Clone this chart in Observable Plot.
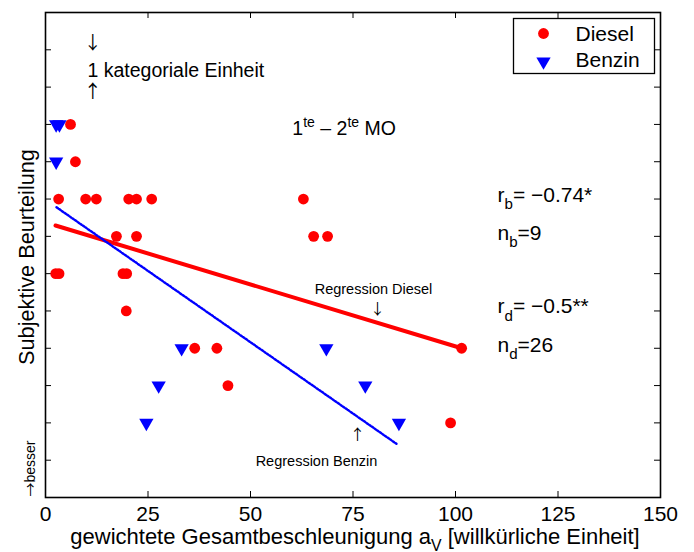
<!DOCTYPE html>
<html><head><meta charset="utf-8">
<script src="https://cdn.jsdelivr.net/npm/d3@7"></script>
<script src="https://cdn.jsdelivr.net/npm/@observablehq/plot@0.6"></script>
<style>body{margin:0;background:#fff;}</style>
</head><body><div id="chart"></div>
<script>
const xTicks = [0, 25, 50, 75, 100, 125, 150];
const yTicks = [1, 2, 3, 4, 5, 6, 7, 8, 9, 10, 11, 12];
const seriesNames = ["Diesel", "Benzin"];

const dieselX = [6.1, 7.3, 3.2, 9.8, 12.4, 20.3, 22.2, 25.9, 62.9, 17.3, 22.2, 65.4, 68.8, 2.5, 3.3, 18.9, 19.8, 19.7, 36.4, 41.8, 101.5, 44.5, 98.8];
const dieselY = [10, 9, 8, 8, 8, 8, 8, 8, 8, 7, 7, 7, 7, 6, 6, 6, 6, 5, 4, 4, 4, 3, 2];
const benzinX = [2.6, 3.4, 2.6, 33.2, 68.5, 27.6, 78, 24.6, 86.2];
const benzinY = [10, 10, 9, 4, 4, 3, 3, 2, 2];

const regDieselX = [2.44, 101.5];
const regDieselY = [7.29, 4.0];
const regBenzinX = [2.68, 85.6];
const regBenzinY = [7.78, 1.44];

const diesel = dieselX.map((x, i) => ({x, y: dieselY[i]}));
const benzin = benzinX.map((x, i) => ({x, y: benzinY[i]}));
const regD = regDieselX.map((x, i) => ({x, y: regDieselY[i]}));
const regB = regBenzinX.map((x, i) => ({x, y: regBenzinY[i]}));

const RED = "#ff0000", BLUE = "#0000ff";
const FONT = "'Liberation Sans', Arial, Helvetica, sans-serif";
const ARROW = "'Noto Sans CJK SC', 'DejaVu Sans', sans-serif";

const chart = Plot.plot({
  width: 694, height: 552,
  marginLeft: 45, marginRight: 34, marginTop: 12, marginBottom: 55,
  x: {domain: [0, 150]},
  y: {domain: [0, 13], axis: null},
  style: {fontFamily: FONT, fontSize: "21px", background: "white", color: "black"},
  marks: [
    // inward ticks on all four sides
    Plot.tickX(xTicks, {x: d => d, insetTop: 479, stroke: "black"}),
    Plot.tickX(xTicks, {x: d => d, insetBottom: 479, stroke: "black"}),
    Plot.tickY(yTicks, {y: d => d, insetRight: 609, stroke: "black"}),
    Plot.tickY(yTicks, {y: d => d, insetLeft: 609, stroke: "black"}),
    Plot.axisX({ticks: xTicks, tickSize: 0, tickPadding: 9, fontSize: 21, label: null, tickFormat: d => String(d)}),
    // regression lines
    Plot.line(regD, {x: "x", y: "y", stroke: RED, strokeWidth: 4}),
    Plot.line(regB, {x: "x", y: "y", stroke: BLUE, strokeWidth: 2.4, strokeDasharray: "1.8,1.4"}),
    // points
    Plot.dot(diesel, {x: "x", y: "y", r: 5.4, fill: RED}),
    Plot.dot(benzin, {x: "x", y: "y", r: 5.3, fill: BLUE, symbol: "triangle", rotate: 180}),
    // annotations
    Plot.text(["\u2193"], {x: 11.5, y: 12.18, fontSize: 18, fontFamily: ARROW, textAnchor: "middle", lineAnchor: "middle"}),
    Plot.text(["1 kategoriale Einheit"], {x: 10.24, y: 11.44, fontSize: 19.5, textAnchor: "start", lineAnchor: "middle"}),
    Plot.text(["\u2191"], {x: 11.5, y: 10.87, fontSize: 18, fontFamily: ARROW, textAnchor: "middle", lineAnchor: "middle"}),
    Plot.text(["1^{te} \u2013 2^{te} MO"], {x: 60.2, y: 9.89, fontSize: 19.5, textAnchor: "start", lineAnchor: "middle"}),
    Plot.text(["r_{b}= \u22120.74*"], {x: 110.24, y: 8.11, fontSize: 21, textAnchor: "start", lineAnchor: "middle"}),
    Plot.text(["n_{b}=9"], {x: 110.24, y: 7.09, fontSize: 21, textAnchor: "start", lineAnchor: "middle"}),
    Plot.text(["r_{d}= \u22120.5**"], {x: 110.24, y: 5.12, fontSize: 21, textAnchor: "start", lineAnchor: "middle"}),
    Plot.text(["n_{d}=26"], {x: 110.24, y: 4.09, fontSize: 21, textAnchor: "start", lineAnchor: "middle"}),
    Plot.text(["Regression Diesel"], {x: 80.0, y: 5.59, fontSize: 14.5, textAnchor: "middle", lineAnchor: "middle"}),
    Plot.text(["\u2193"], {x: 81.0, y: 5.04, fontSize: 15, fontFamily: ARROW, textAnchor: "middle", lineAnchor: "middle"}),
    Plot.text(["\u2191"], {x: 76.1, y: 1.66, fontSize: 15, fontFamily: ARROW, textAnchor: "middle", lineAnchor: "middle"}),
    Plot.text(["Regression Benzin"], {x: 66.1, y: 0.98, fontSize: 14.5, textAnchor: "middle", lineAnchor: "middle"}),
    // axis titles
    Plot.text(["Subjektive Beurteilung"], {frameAnchor: "left", dx: -18.7, dy: 2, rotate: -90, fontSize: 21.7, textAnchor: "middle", lineAnchor: "middle"}),
    Plot.text(["\u2192"], {frameAnchor: "bottom-left", dx: -14.5, dy: -1, rotate: -90, fontSize: 14, fontFamily: ARROW, textAnchor: "start", lineAnchor: "middle"}),
    Plot.text(["besser"], {frameAnchor: "bottom-left", dx: -14.5, dy: -15, rotate: -90, fontSize: 14, textAnchor: "start", lineAnchor: "middle"}),
    Plot.text(["gewichtete Gesamtbeschleunigung a_{V} [willk\u00fcrliche Einheit]"], {frameAnchor: "bottom", dy: 39, dx: 2, fontSize: 22, textAnchor: "middle", lineAnchor: "middle"}),
    // legend
    Plot.frame({insetTop: 6, insetRight: 6, insetLeft: 468, insetBottom: 424, stroke: "black", fill: "white", strokeWidth: 1.3}),
    Plot.dot([seriesNames[0]], {frameAnchor: "top-right", dx: -117, dy: 21, r: 5.4, fill: RED}),
    Plot.dot([seriesNames[1]], {frameAnchor: "top-right", dx: -117, dy: 49, r: 5.3, fill: BLUE, symbol: "triangle", rotate: 180}),
    Plot.text([seriesNames[0]], {frameAnchor: "top-right", dx: -85, dy: 22, fontSize: 21, textAnchor: "start", lineAnchor: "middle", text: d => d}),
    Plot.text([seriesNames[1]], {frameAnchor: "top-right", dx: -85, dy: 48, fontSize: 21, textAnchor: "start", lineAnchor: "middle", text: d => d}),
    // plot box
    Plot.frame({stroke: "black", strokeWidth: 1.6})
  ]
});

document.getElementById("chart").appendChild(chart);

// render _{sub} and ^{sup} markup as tspans
d3.select(chart).selectAll("text").each(function () {
  const el = this;
  const s = el.textContent;
  if (!/[_^]\{/.test(s)) return;
  const fs = parseFloat(getComputedStyle(el).fontSize) || 16;
  const re = /([_^])\{([^}]*)\}/g;
  const segs = [];
  let last = 0, m;
  while ((m = re.exec(s))) {
    if (m.index > last) segs.push({t: s.slice(last, m.index), k: ""});
    segs.push({t: m[2], k: m[1]});
    last = re.lastIndex;
  }
  if (last < s.length) segs.push({t: s.slice(last), k: ""});
  el.textContent = "";
  let cur = 0;
  for (const seg of segs) {
    const target = seg.k === "_" ? 0.36 * fs : seg.k === "^" ? -0.42 * fs : 0;
    const ts = document.createElementNS("http://www.w3.org/2000/svg", "tspan");
    ts.setAttribute("dy", (target - cur).toFixed(2));
    if (seg.k) ts.setAttribute("font-size", (0.72 * fs).toFixed(2));
    ts.textContent = seg.t;
    el.appendChild(ts);
    cur = target;
  }
});
</script>
</body></html>
